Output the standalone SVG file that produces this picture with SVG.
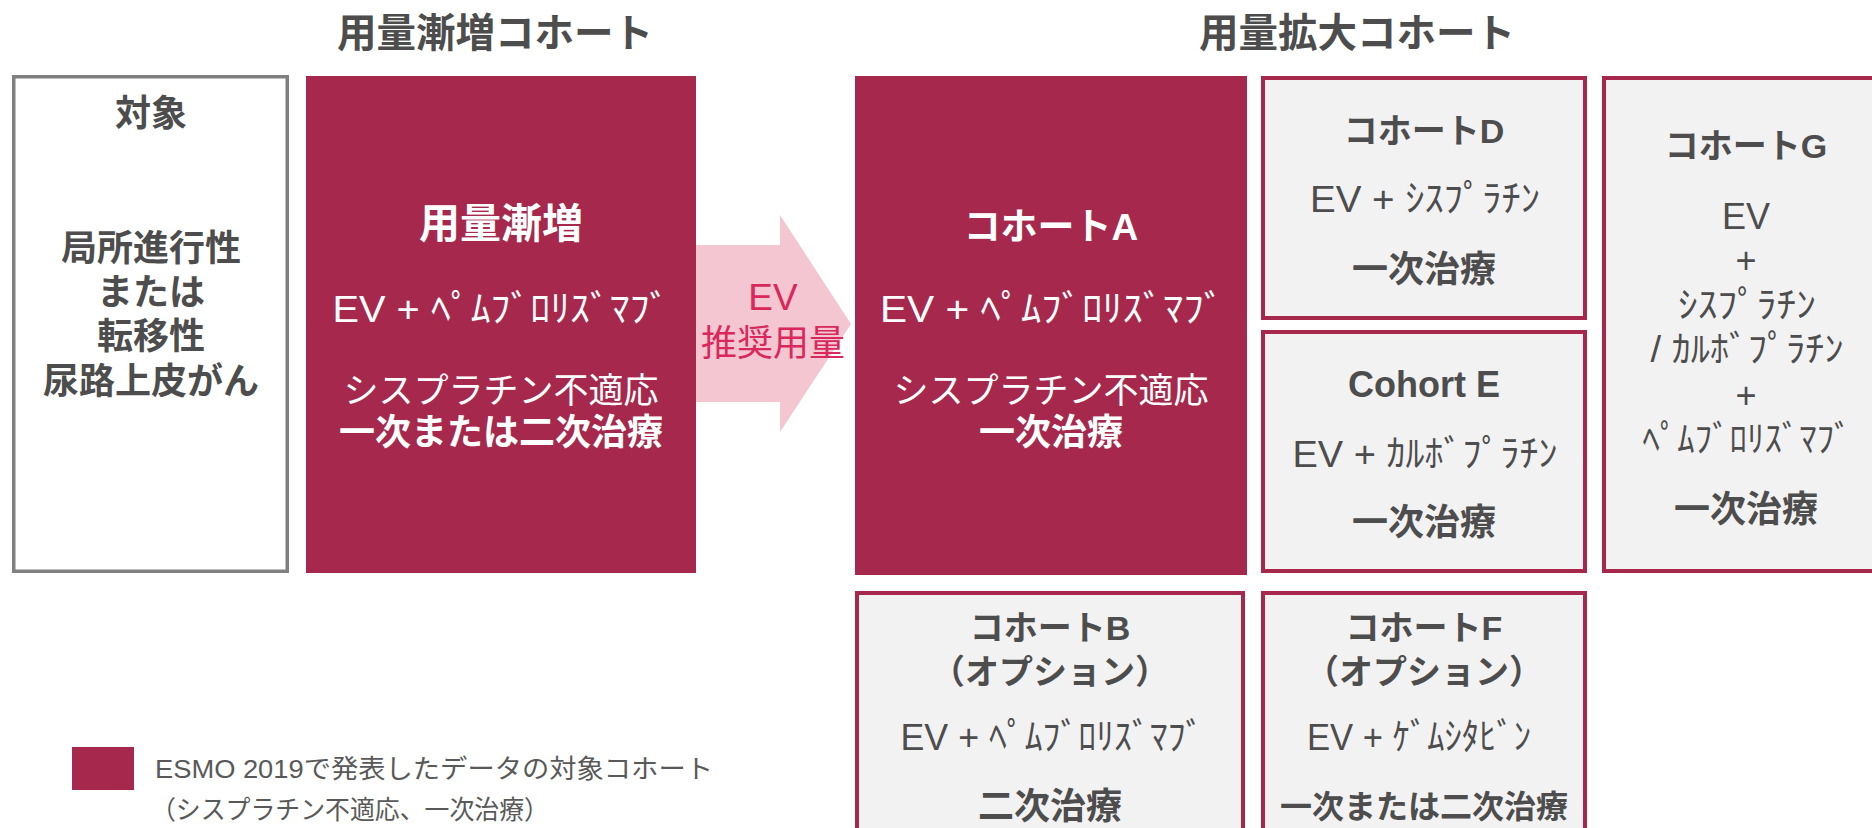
<svg xmlns="http://www.w3.org/2000/svg" width="1872" height="828" viewBox="0 0 1872 828">
<style>
text{font-family:"Liberation Sans","Noto Sans CJK JP",sans-serif;text-anchor:middle}
.t{font-size:39.5px;font-weight:bold;fill:#4d4d4d}
.g{fill:#4d4d4d;font-size:36px}
.w{fill:#ffffff;font-size:36px}
.b{font-weight:bold}
.red{fill:#A6294D}
.box{fill:#f2f2f2;stroke:#A6294D;stroke-width:4}
.leg{font-size:26px;fill:#595959;text-anchor:start}
</style>
<rect width="1872" height="828" fill="#ffffff"/>
<g id="titles">
<text class="t" x="495" y="47">用量漸増コホート</text>
<text class="t" x="1357" y="47">用量拡大コホート</text>
</g>
<g id="target">
<rect x="13.75" y="76.75" width="273.5" height="494.5" fill="#ffffff" stroke="#808080" stroke-width="3.5"/>
<text class="g b" x="151" y="126">対象</text>
<text class="g b" x="151" y="261">局所進行性</text>
<text class="g b" x="151" y="305">または</text>
<text class="g b" x="151" y="349">転移性</text>
<text class="g b" x="151" y="394">尿路上皮がん</text>
</g>
<g id="escalation">
<rect class="red" x="306" y="76" width="390" height="497"/>
<text class="w b" x="501" y="238" style="font-size:41px">用量漸増</text>
<text class="w" x="501" y="322" style="font-size:37px" textLength="337" lengthAdjust="spacingAndGlyphs">EV + ﾍﾟﾑﾌﾞﾛﾘｽﾞﾏﾌﾞ</text>
<text class="w" x="501" y="403" style="font-size:35px">シスプラチン不適応</text>
<text class="w b" x="501" y="445">一次または二次治療</text>
</g>
<g id="connectors">
<polygon points="696,245 780,245 780,215 851,324 780,432 780,402 696,402" fill="#F4C6D1"/>
<text x="773" y="310" style="font-size:37px;fill:#D9285B">EV</text>
<text x="773" y="356" style="font-size:36px;fill:#D9285B">推奨用量</text>
</g>
<g id="cohortA">
<rect class="red" x="855" y="76" width="392" height="499"/>
<text class="w b" x="1051" y="240" style="font-size:37px">コホートA</text>
<text class="w" x="1052" y="322" style="font-size:37px" textLength="344" lengthAdjust="spacingAndGlyphs">EV + ﾍﾟﾑﾌﾞﾛﾘｽﾞﾏﾌﾞ</text>
<text class="w" x="1051" y="403" style="font-size:35px">シスプラチン不適応</text>
<text class="w b" x="1051" y="445">一次治療</text>
</g>
<g id="cohortD">
<rect class="box" x="1263" y="78" width="322" height="240"/>
<text class="g b" x="1424" y="143" style="font-size:34px">コホートD</text>
<text class="g" x="1425" y="212" style="font-size:37px" textLength="230" lengthAdjust="spacingAndGlyphs">EV + ｼｽﾌﾟﾗﾁﾝ</text>
<text class="g b" x="1424" y="282">一次治療</text>
</g>
<g id="cohortE">
<rect class="box" x="1263" y="332" width="322" height="239"/>
<text class="g b" x="1424" y="397">Cohort E</text>
<text class="g" x="1425" y="467" style="font-size:37px" textLength="265" lengthAdjust="spacingAndGlyphs">EV + ｶﾙﾎﾞﾌﾟﾗﾁﾝ</text>
<text class="g b" x="1424" y="535">一次治療</text>
</g>
<g id="cohortG">
<rect class="box" x="1604" y="78" width="290" height="493"/>
<text class="g b" x="1746" y="158" style="font-size:34px">コホートG</text>
<text class="g" x="1746" y="229">EV</text>
<text class="g" x="1746" y="273">+</text>
<text class="g" x="1747" y="318" textLength="138" lengthAdjust="spacingAndGlyphs">ｼｽﾌﾟﾗﾁﾝ</text>
<text class="g" x="1747" y="362" textLength="193" lengthAdjust="spacingAndGlyphs">/ ｶﾙﾎﾞﾌﾟﾗﾁﾝ</text>
<text class="g" x="1746" y="408">+</text>
<text class="g" x="1747" y="452" textLength="209" lengthAdjust="spacingAndGlyphs">ﾍﾟﾑﾌﾞﾛﾘｽﾞﾏﾌﾞ</text>
<text class="g b" x="1746" y="522">一次治療</text>
</g>
<g id="cohortB">
<rect class="box" x="857" y="593" width="386" height="250"/>
<text class="g b" x="1050" y="640" style="font-size:34px">コホートB</text>
<text class="g b" x="1050" y="684" style="font-size:34px">（オプション）</text>
<text class="g" x="1052" y="750" style="font-size:37px" textLength="303" lengthAdjust="spacingAndGlyphs">EV + ﾍﾟﾑﾌﾞﾛﾘｽﾞﾏﾌﾞ</text>
<text class="g b" x="1050" y="819">二次治療</text>
</g>
<g id="cohortF">
<rect class="box" x="1263" y="593" width="322" height="250"/>
<text class="g b" x="1424" y="640" style="font-size:34px">コホートF</text>
<text class="g b" x="1424" y="684" style="font-size:34px">（オプション）</text>
<text class="g" x="1419" y="750" style="font-size:37px" textLength="224" lengthAdjust="spacingAndGlyphs">EV + ｹﾞﾑｼﾀﾋﾞﾝ</text>
<text class="g b" x="1424" y="818" style="font-size:32px">一次または二次治療</text>
</g>
<g id="legend">
<rect class="red" x="72" y="747" width="62" height="43"/>
<text class="leg" x="155" y="778" textLength="558" lengthAdjust="spacingAndGlyphs">ESMO 2019で発表したデータの対象コホート</text>
<text class="leg" x="151" y="819" textLength="398" lengthAdjust="spacingAndGlyphs">（シスプラチン不適応、一次治療）</text>
</g>
</svg>
